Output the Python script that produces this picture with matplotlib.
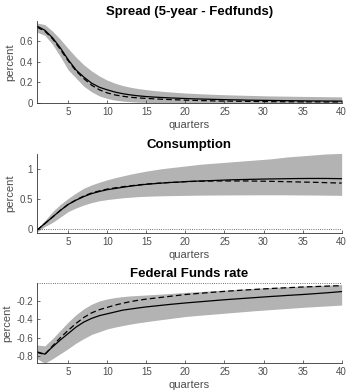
import numpy as np
import matplotlib.pyplot as plt

plt.rcParams['font.family'] = ['Liberation Sans', 'DejaVu Sans']

q = np.arange(1, 41)

# Spread (5-year - Fedfunds)
spread_mid = [0.75, 0.71, 0.635, 0.535, 0.42, 0.32, 0.25, 0.19, 0.15, 0.125,
              0.103, 0.087, 0.075, 0.066, 0.059, 0.054, 0.05, 0.046, 0.043, 0.04,
              0.037, 0.035, 0.033, 0.031, 0.029, 0.027, 0.026, 0.024, 0.023, 0.022,
              0.021, 0.02, 0.019, 0.018, 0.017, 0.016, 0.016, 0.015, 0.015, 0.014]
spread_alt = [0.74, 0.70, 0.625, 0.52, 0.41, 0.31, 0.235, 0.17, 0.125, 0.095,
              0.075, 0.062, 0.052, 0.046, 0.041, 0.037, 0.033, 0.03, 0.027, 0.024,
              0.022, 0.02, 0.018, 0.016, 0.015, 0.014, 0.013, 0.012, 0.011, 0.01,
              0.009, 0.009, 0.008, 0.008, 0.007, 0.007, 0.007, 0.006, 0.006, 0.006]
spread_hi = [0.78, 0.765, 0.70, 0.62, 0.53, 0.445, 0.37, 0.31, 0.26, 0.22,
             0.19, 0.167, 0.15, 0.137, 0.127, 0.118, 0.111, 0.105, 0.099, 0.094,
             0.09, 0.086, 0.083, 0.08, 0.077, 0.075, 0.073, 0.071, 0.069, 0.067,
             0.065, 0.064, 0.063, 0.062, 0.061, 0.06, 0.059, 0.058, 0.057, 0.056]
spread_lo = [0.69, 0.66, 0.57, 0.45, 0.32, 0.24, 0.16, 0.105, 0.065, 0.04,
             0.024, 0.014, 0.008, 0.004, 0.002, 0.0, -0.001, -0.002, -0.003, -0.003,
             -0.004, -0.004, -0.004, -0.005, -0.005, -0.005, -0.005, -0.005, -0.005, -0.005,
             -0.005, -0.005, -0.005, -0.005, -0.005, -0.005, -0.005, -0.005, -0.005, -0.005]

# Consumption
cons_mid = [-0.02, 0.09, 0.20, 0.31, 0.41, 0.48, 0.54, 0.59, 0.625, 0.655,
            0.675, 0.695, 0.715, 0.73, 0.745, 0.755, 0.765, 0.775, 0.78, 0.79,
            0.795, 0.80, 0.805, 0.81, 0.815, 0.82, 0.823, 0.826, 0.829, 0.832,
            0.834, 0.836, 0.838, 0.84, 0.841, 0.842, 0.842, 0.842, 0.84, 0.838]
cons_alt = [-0.02, 0.09, 0.20, 0.31, 0.41, 0.485, 0.55, 0.60, 0.635, 0.665,
            0.685, 0.705, 0.72, 0.735, 0.748, 0.758, 0.767, 0.775, 0.78, 0.788,
            0.793, 0.796, 0.798, 0.80, 0.80, 0.80, 0.80, 0.80, 0.798, 0.796,
            0.794, 0.791, 0.788, 0.785, 0.782, 0.779, 0.776, 0.772, 0.768, 0.765]
cons_hi = [0.0, 0.14, 0.29, 0.41, 0.51, 0.60, 0.68, 0.735, 0.78, 0.82,
           0.855, 0.885, 0.915, 0.94, 0.965, 0.985, 1.005, 1.02, 1.035, 1.05,
           1.065, 1.08, 1.09, 1.10, 1.11, 1.12, 1.13, 1.14, 1.15, 1.16,
           1.17, 1.185, 1.20, 1.21, 1.22, 1.23, 1.24, 1.25, 1.255, 1.26]
cons_lo = [-0.05, 0.04, 0.11, 0.20, 0.29, 0.35, 0.40, 0.44, 0.47, 0.49,
           0.505, 0.52, 0.53, 0.54, 0.545, 0.55, 0.553, 0.556, 0.558, 0.56,
           0.562, 0.564, 0.565, 0.566, 0.567, 0.568, 0.568, 0.569, 0.569, 0.57,
           0.57, 0.57, 0.569, 0.568, 0.567, 0.566, 0.565, 0.563, 0.562, 0.56]

# Federal Funds rate
ff_mid = [-0.755, -0.78, -0.70, -0.625, -0.555, -0.485, -0.43, -0.39, -0.36, -0.34,
          -0.32, -0.30, -0.288, -0.276, -0.265, -0.256, -0.247, -0.238, -0.23, -0.222,
          -0.215, -0.208, -0.201, -0.194, -0.187, -0.181, -0.175, -0.169, -0.163, -0.157,
          -0.151, -0.146, -0.14, -0.135, -0.13, -0.124, -0.118, -0.112, -0.105, -0.098]
ff_alt = [-0.76, -0.785, -0.69, -0.60, -0.52, -0.445, -0.38, -0.33, -0.295, -0.27,
          -0.245, -0.225, -0.207, -0.192, -0.18, -0.17, -0.16, -0.15, -0.14, -0.13,
          -0.123, -0.116, -0.109, -0.102, -0.096, -0.09, -0.084, -0.079, -0.074, -0.069,
          -0.064, -0.06, -0.056, -0.052, -0.048, -0.045, -0.042, -0.039, -0.036, -0.034]
ff_hi = [-0.68, -0.69, -0.61, -0.52, -0.43, -0.35, -0.285, -0.235, -0.2, -0.178,
         -0.163, -0.152, -0.145, -0.14, -0.135, -0.13, -0.125, -0.119, -0.113, -0.107,
         -0.102, -0.097, -0.092, -0.087, -0.082, -0.077, -0.072, -0.067, -0.062, -0.058,
         -0.054, -0.05, -0.046, -0.042, -0.038, -0.034, -0.031, -0.028, -0.025, -0.022]
ff_lo = [-0.83, -0.88, -0.83, -0.775, -0.72, -0.66, -0.61, -0.565, -0.535, -0.505,
         -0.485, -0.468, -0.452, -0.438, -0.426, -0.414, -0.403, -0.392, -0.381, -0.37,
         -0.362, -0.355, -0.348, -0.341, -0.334, -0.327, -0.32, -0.313, -0.306, -0.30,
         -0.294, -0.288, -0.282, -0.276, -0.27, -0.265, -0.26, -0.255, -0.25, -0.245]

titles = ['Spread (5-year - Fedfunds)', 'Consumption', 'Federal Funds rate']
ylims = [(-0.006, 0.8), (-0.062, 1.25), (-0.88, 0.0)]
yticks = [[0, 0.2, 0.4, 0.6], [0, 0.5, 1], [-0.8, -0.6, -0.4, -0.2]]
yticklabels = [['0', '0.2', '0.4', '0.6'], ['0', '0.5', '1'], ['-0.8', '-0.6', '-0.4', '-0.2']]
xticks = [5, 10, 15, 20, 25, 30, 35, 40]

fig = plt.figure(figsize=(3.47, 3.92), dpi=100)
boxes = [[0.1066, 0.7367, 0.878, 0.2097],
         [0.1066, 0.4064, 0.878, 0.2008],
         [0.1066, 0.0732, 0.878, 0.2059]]
series = [(spread_mid, spread_alt, spread_hi, spread_lo),
          (cons_mid, cons_alt, cons_hi, cons_lo),
          (ff_mid, ff_alt, ff_hi, ff_lo)]

axc = '0.3'
for i in range(3):
    ax = fig.add_axes(boxes[i])
    mid, alt, hi, lo = series[i]
    ax.fill_between(q, lo, hi, color='0.7', lw=0)
    ax.plot(q, mid, 'k-', lw=0.9)
    ax.plot(q, alt, 'k--', lw=0.9, dashes=(4.5, 2.5))
    ax.axhline(0, color='0.25', ls=':', lw=0.6)
    ax.set_xlim(1, 40)
    ax.set_ylim(*ylims[i])
    ax.set_xticks(xticks)
    ax.set_yticks(yticks[i])
    ax.set_yticklabels(yticklabels[i])
    for s in ['top', 'right']:
        ax.spines[s].set_visible(False)
    for s in ['left', 'bottom']:
        ax.spines[s].set_color('0.2')
        ax.spines[s].set_linewidth(0.6)
    ax.tick_params(direction='in', length=2.5, width=0.5, colors='0.2',
                   labelcolor=axc, labelsize=7, pad=3)
    ax.set_title(titles[i], fontsize=9.5, fontweight='bold', pad=4)
    ax.set_ylabel('percent', fontsize=8, color=axc, labelpad=3)
    ax.set_xlabel('quarters', fontsize=8, color=axc, labelpad=2)

fig.savefig('out.png', dpi=100)
